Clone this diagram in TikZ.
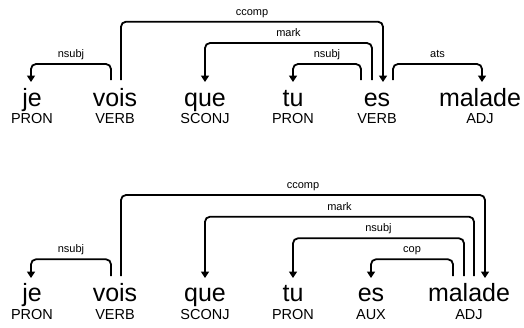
\documentclass[tikz,border=0pt]{standalone}
\usepackage{fontspec}
\setmainfont{Liberation Sans}
\usetikzlibrary{arrows.meta}
\tikzset{
  word/.style={anchor=base, inner sep=0pt, font=\fontsize{25}{30}\selectfont},
  tagx/.style={anchor=base, inner sep=0pt, font=\fontsize{14.5}{17}\selectfont},
  lab/.style={anchor=base, inner sep=0pt, yshift=6.5pt, font=\fontsize{11}{13}\selectfont},
  dep/.style={line width=1.8pt, rounded corners=5pt, -{Triangle[width=8pt,length=6.5pt]}}
}
% #1 from node, #2 dx, #3 to node, #4 dx, #5 level y, #6 label, #7 start y, #8 end y
\newcommand\depedge[8]{%
  \draw[dep] ([xshift=#2pt]#1.center |- 0,#7) -- ([xshift=#2pt]#1.center |- 0,#5)
    -- ([xshift=#4pt]#3.center |- 0,#5) node[lab, midway] {#6}
    -- ([xshift=#4pt]#3.center |- 0,#8);}
\begin{document}
\begin{tikzpicture}[x=1pt, y=-1pt]
\useasboundingbox (0,0) rectangle (524,327);
% top sentence
\node[word] (je1) at (32,106) {je};
\node[word] (vois1) at (115,106) {vois};
\node[word] (que1) at (205,106) {que};
\node[word] (tu1) at (293,106) {tu};
\node[word] (es1) at (377,106) {es};
\node[word] (mal1) at (480,106) {malade};
\node[tagx] (je1t) at (32,123.5) {PRON};
\node[tagx] (vois1t) at (115,123.5) {VERB};
\node[tagx] (que1t) at (205,123.5) {SCONJ};
\node[tagx] (tu1t) at (293,123.5) {PRON};
\node[tagx] (es1t) at (377,123.5) {VERB};
\node[tagx] (mal1t) at (480,123.5) {ADJ};
\depedge{vois1}{-4}{je1}{-1}{64}{nsubj}{80}{82}
\depedge{vois1}{6}{es1}{6}{21.7}{ccomp}{80}{82}
\depedge{es1}{-5}{que1}{0}{43}{mark}{80}{82}
\depedge{es1}{-16}{tu1}{0}{64}{nsubj}{80}{82}
\depedge{es1}{16}{mal1}{2}{64}{ats}{80}{82}
% bottom sentence
\node[word] (je2) at (32,301.7) {je};
\node[word] (vois2) at (115,301.7) {vois};
\node[word] (que2) at (205,301.7) {que};
\node[word] (tu2) at (293,301.7) {tu};
\node[word] (es2) at (371,301.7) {es};
\node[word] (mal2) at (469,301.7) {malade};
\node[tagx] (je2t) at (32,319) {PRON};
\node[tagx] (vois2t) at (115,319) {VERB};
\node[tagx] (que2t) at (205,319) {SCONJ};
\node[tagx] (tu2t) at (293,319) {PRON};
\node[tagx] (es2t) at (371,319) {AUX};
\node[tagx] (mal2t) at (469,319) {ADJ};
\depedge{vois2}{-4}{je2}{-1}{259.3}{nsubj}{276}{278}
\depedge{vois2}{6}{mal2}{16}{195}{ccomp}{276}{278}
\depedge{mal2}{5}{que2}{0}{216.7}{mark}{276}{278}
\depedge{mal2}{-5}{tu2}{0}{238.3}{nsubj}{276}{278}
\depedge{mal2}{-16}{es2}{0}{259.3}{cop}{276}{278}
\end{tikzpicture}
\end{document}
